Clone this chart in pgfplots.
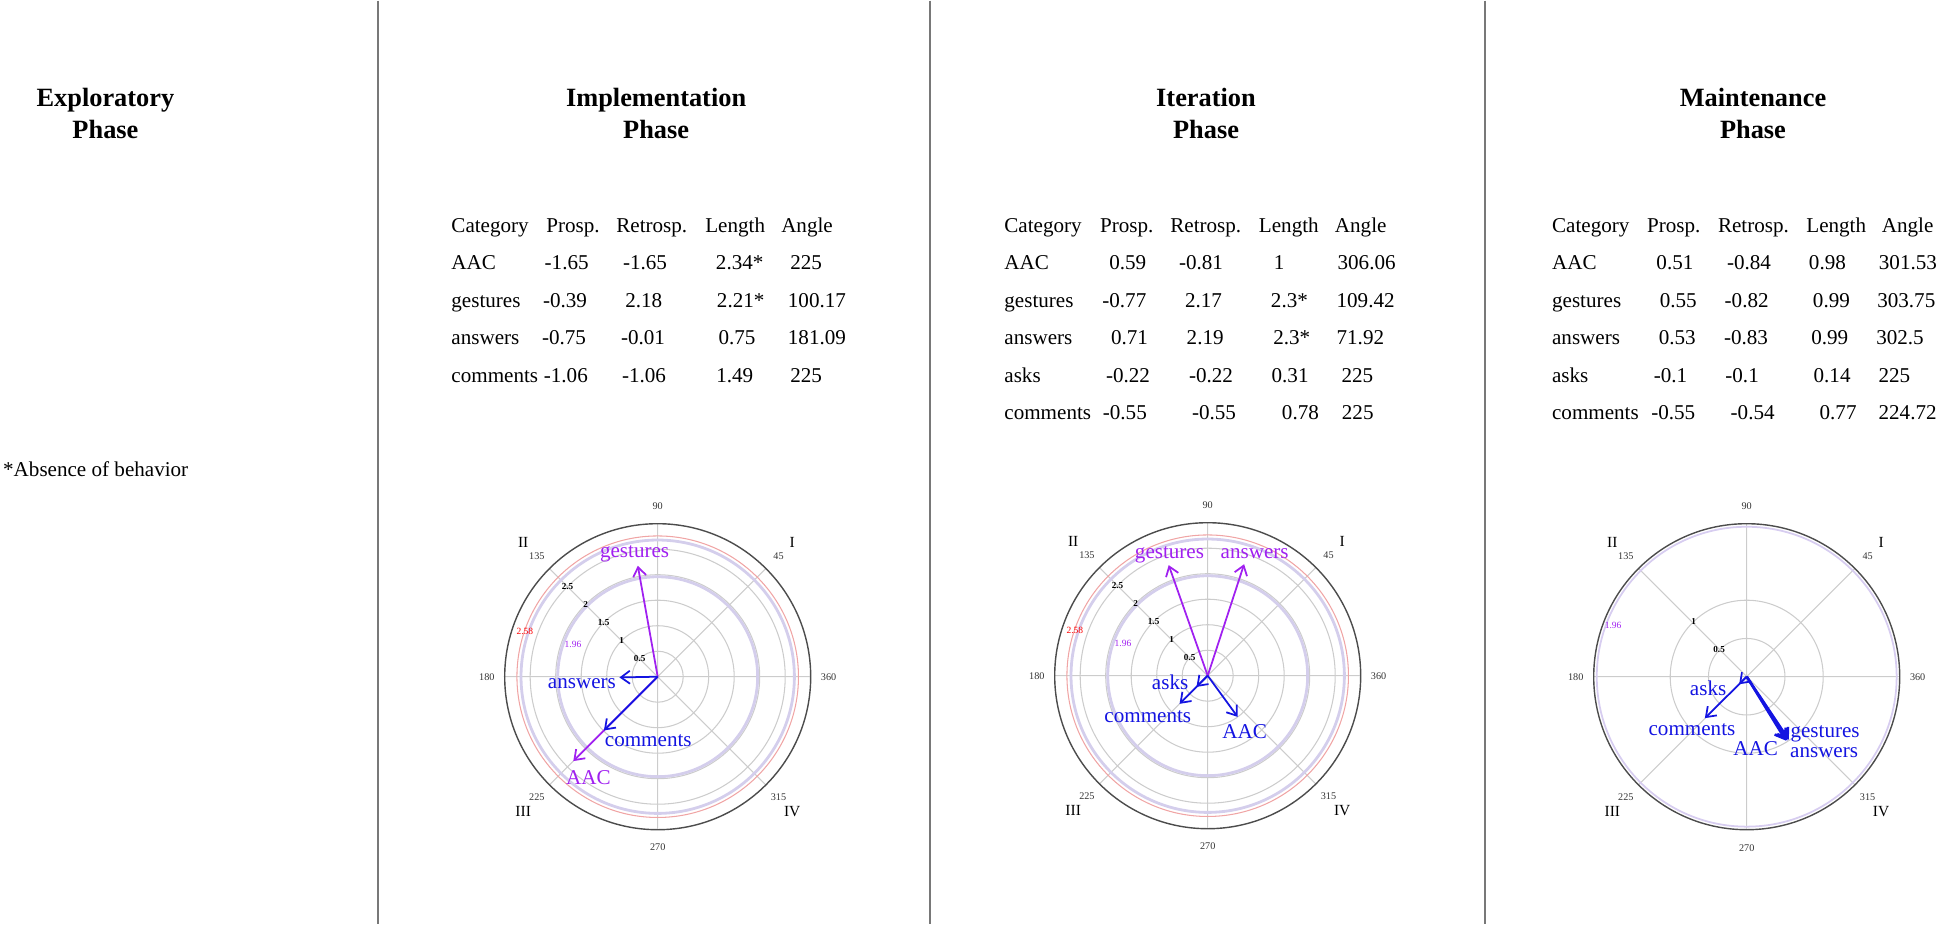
\documentclass[border=0pt]{standalone}
\usepackage{fontspec}
\setmainfont{Liberation Serif}
\usepackage{pgfplots}
\pgfplotsset{compat=1.18}
\usepgfplotslibrary{polar}
\usetikzlibrary{arrows.meta}
\definecolor{purp}{RGB}{160,32,240}
\definecolor{blu}{RGB}{20,20,225}
\definecolor{lav}{RGB}{212,206,236}
\definecolor{lavthin}{RGB}{215,205,240}
\definecolor{ringred}{RGB}{240,165,165}
\definecolor{divgray}{RGB}{120,120,120}
\newcommand{\tabfont}{\fontsize{6pt}{7pt}\selectfont}
\newcommand{\titfont}{\fontsize{7.5pt}{9pt}\selectfont\bfseries}
\newcommand{\angfont}{\fontsize{2.9pt}{3.4pt}\selectfont}
\newcommand{\quadfont}{\fontsize{4.4pt}{5pt}\selectfont}
\newcommand{\rfont}{\fontsize{2.6pt}{3pt}\selectfont\bfseries}
\newcommand{\cfont}{\fontsize{2.7pt}{3pt}\selectfont}
\newcommand{\cell}[3]{\node[anchor=base west,inner sep=0pt,font=\tabfont] at (#1,{934-#2}) {#3};}
\newcommand{\titl}[3]{\node[anchor=base,inner sep=0pt,font=\titfont] at (#1,{934-#2}) {#3};}
\newcommand{\angl}[2]{%
  \node[font=\angfont, text=black!80, inner sep=0pt] at (axis cs:0,#1) {360};
  \node[font=\angfont, text=black!80, inner sep=0pt] at (axis cs:45,#1) {45};
  \node[font=\angfont, text=black!80, inner sep=0pt] at (axis cs:90,#1) {90};
  \node[font=\angfont, text=black!80, inner sep=0pt] at (axis cs:135,#1) {135};
  \node[font=\angfont, text=black!80, inner sep=0pt] at (axis cs:180,#1) {180};
  \node[font=\angfont, text=black!80, inner sep=0pt] at (axis cs:225,#1) {225};
  \node[font=\angfont, text=black!80, inner sep=0pt] at (axis cs:270,#1) {270};
  \node[font=\angfont, text=black!80, inner sep=0pt] at (axis cs:315,#1) {315};
  \node[font=\quadfont, inner sep=0pt] at (axis cs:45,#2) {I};
  \node[font=\quadfont, inner sep=0pt] at (axis cs:135,#2) {II};
  \node[font=\quadfont, inner sep=0pt] at (axis cs:225,#2) {III};
  \node[font=\quadfont, inner sep=0pt] at (axis cs:315,#2) {IV};
}
\newcommand{\rlab}[2]{\node[font=\rfont, inner sep=0pt] at (axis cs:#1) {#2};}
\newcommand{\clab}[3]{\node[font=\cfont, text=#3, inner sep=0pt] at (axis cs:#1) {#2};}
\newcommand{\alab}[5]{\node[font=\tabfont, text=#1, inner sep=0pt, xshift=#3cm, yshift=#4cm] at (axis cs:#2) {#5};}
\pgfplotsset{
  mypolar/.style={
    scale only axis, width=3.06cm, height=3.06cm, anchor=center,
    ymin=0, xmin=0, xmax=360,
    xtick={0,45,...,315}, xticklabels={}, yticklabels={},
    grid=both,
    major grid style={color=gray!40, line width=0.3pt},
    minor grid style={color=ringred, line width=0.3pt},
    axis line style={color=black!70, line width=0.4pt},
    y axis line style={draw=none},
    major tick length=0pt, minor tick length=0pt,
    extra y tick labels={},
    extra y tick style={grid=major, major grid style={color=lav, line width=0.8pt}},
    clip=false,
  },
  arr/.style={-{Straight Barb[length=0.9mm,width=1.3mm]}, line width=0.5pt, mark=none},
}
\begin{document}
\begin{tikzpicture}
\path[use as bounding box] (0,0) rectangle (19.45cm,9.34cm);
\begin{scope}[x=0.01cm,y=0.01cm]
% dividers
\draw[divgray, line width=0.45pt] (378.5,934) -- (378.5,10);
\draw[divgray, line width=0.45pt] (930.5,934) -- (930.5,10);
\draw[divgray, line width=0.45pt] (1486,934) -- (1486,10);
% titles
\titl{105.5}{106.5}{Exploratory}
\titl{105.5}{138.5}{Phase}
\titl{656.5}{106.5}{Implementation}
\titl{656.5}{138.5}{Phase}
\titl{1206.7}{106}{Iteration}
\titl{1206.7}{138}{Phase}
\titl{1754}{106}{Maintenance}
\titl{1754}{138}{Phase}
\cell{2.5}{476}{*Absence of behavior}
% Implementation table
\cell{451}{231.7}{Category}\cell{546}{231.7}{Prosp.}\cell{616}{231.7}{Retrosp.}\cell{705}{231.7}{Length}\cell{781}{231.7}{Angle}
\cell{451}{269.2}{AAC}\cell{544.3}{269.2}{-1.65}\cell{622.7}{269.2}{-1.65}\cell{715.7}{269.2}{2.34*}\cell{790}{269.2}{225}
\cell{451}{306.7}{gestures}\cell{542.7}{306.7}{-0.39}\cell{625}{306.7}{2.18}\cell{716.7}{306.7}{2.21*}\cell{787.7}{306.7}{100.17}
\cell{451}{344.2}{answers}\cell{541.7}{344.2}{-0.75}\cell{620.7}{344.2}{-0.01}\cell{718.3}{344.2}{0.75}\cell{787.7}{344.2}{181.09}
\cell{451}{381.7}{comments}\cell{543.5}{381.7}{-1.06}\cell{621.7}{381.7}{-1.06}\cell{716}{381.7}{1.49}\cell{790}{381.7}{225}
% Iteration table
\cell{1004.3}{231.7}{Category}\cell{1100}{231.7}{Prosp.}\cell{1170.3}{231.7}{Retrosp.}\cell{1259}{231.7}{Length}\cell{1335}{231.7}{Angle}
\cell{1004.3}{269.2}{AAC}\cell{1109.3}{269.2}{0.59}\cell{1179}{269.2}{-0.81}\cell{1274}{269.2}{1}\cell{1337.7}{269.2}{306.06}
\cell{1004.3}{306.7}{gestures}\cell{1102.3}{306.7}{-0.77}\cell{1185}{306.7}{2.17}\cell{1271}{306.7}{2.3*}\cell{1336.7}{306.7}{109.42}
\cell{1004.3}{344.2}{answers}\cell{1111}{344.2}{0.71}\cell{1186.7}{344.2}{2.19}\cell{1273.3}{344.2}{2.3*}\cell{1336.7}{344.2}{71.92}
\cell{1004.3}{381.7}{asks}\cell{1106}{381.7}{-0.22}\cell{1189}{381.7}{-0.22}\cell{1271.7}{381.7}{0.31}\cell{1341.7}{381.7}{225}
\cell{1004.3}{419.2}{comments}\cell{1102.8}{419.2}{-0.55}\cell{1192}{419.2}{-0.55}\cell{1282}{419.2}{0.78}\cell{1342}{419.2}{225}
% Maintenance table
\cell{1552.3}{231.7}{Category}\cell{1647.3}{231.7}{Prosp.}\cell{1718.3}{231.7}{Retrosp.}\cell{1806.7}{231.7}{Length}\cell{1882.3}{231.7}{Angle}
\cell{1552.3}{269.2}{AAC}\cell{1656.7}{269.2}{0.51}\cell{1727.3}{269.2}{-0.84}\cell{1809.3}{269.2}{0.98}\cell{1879.3}{269.2}{301.53}
\cell{1552.3}{306.7}{gestures}\cell{1660}{306.7}{0.55}\cell{1725}{306.7}{-0.82}\cell{1813.3}{306.7}{0.99}\cell{1877.7}{306.7}{303.75}
\cell{1552.3}{344.2}{answers}\cell{1659}{344.2}{0.53}\cell{1724.3}{344.2}{-0.83}\cell{1811.7}{344.2}{0.99}\cell{1876.7}{344.2}{302.5}
\cell{1552.3}{381.7}{asks}\cell{1654}{381.7}{-0.1}\cell{1725.7}{381.7}{-0.1}\cell{1814}{381.7}{0.14}\cell{1879}{381.7}{225}
\cell{1552.3}{419.2}{comments}\cell{1651.6}{419.2}{-0.55}\cell{1731}{419.2}{-0.54}\cell{1820}{419.2}{0.77}\cell{1879}{419.2}{224.72}
\end{scope}

% ---------- Implementation polar ----------
\begin{polaraxis}[mypolar, at={(6.577cm,2.573cm)}, ymax=3,
  ytick={0.5,1,1.5,2,2.5}, minor ytick={2.76}, extra y ticks={1.96,2.68}]
\addplot[purp, arr] coordinates {(225,0) (225,2.34)};
\addplot[purp, arr] coordinates {(100.17,0) (100.17,2.21)};
\addplot[blu, arr] coordinates {(181.09,0) (181.09,0.75)};
\addplot[blu, arr] coordinates {(225,0) (225,1.49)};
\angl{3.35}{3.73}
\rlab{135,0.5}{0.5}\rlab{135,1}{1}\rlab{135,1.5}{1.5}\rlab{135,2}{2}\rlab{135,2.5}{2.5}
\clab{159,1.78}{1.96}{purp}
\clab{161.3,2.75}{2.58}{red}
\alab{purp}{100.17,2.21}{-0.032}{0.119}{gestures}
\alab{blu}{181.09,0.75}{-0.375}{-0.066}{answers}
\alab{blu}{225,1.49}{0.443}{-0.106}{comments}
\alab{purp}{225,2.34}{0.15}{-0.166}{AAC}
\end{polaraxis}

% ---------- Iteration polar ----------
\begin{polaraxis}[mypolar, at={(12.077cm,2.583cm)}, ymax=3,
  ytick={0.5,1,1.5,2,2.5}, minor ytick={2.76}, extra y ticks={1.96,2.68}]
\addplot[purp, arr] coordinates {(109.42,0) (109.42,2.3)};
\addplot[purp, arr] coordinates {(71.92,0) (71.92,2.3)};
\addplot[blu, arr] coordinates {(306.06,0) (306.06,1)};
\addplot[blu, arr] coordinates {(225,0) (225,0.78)};
\addplot[blu, arr] coordinates {(225,0) (225,0.31)};
\angl{3.35}{3.73}
\rlab{135,0.5}{0.5}\rlab{135,1}{1}\rlab{135,1.5}{1.5}\rlab{135,2}{2}\rlab{135,2.5}{2.5}
\clab{159,1.78}{1.96}{purp}
\clab{161.3,2.75}{2.58}{red}
\alab{purp}{109.42,2.3}{0.008}{0.10}{gestures}
\alab{purp}{71.92,2.3}{0.106}{0.104}{answers}
\alab{blu}{225,0.31}{-0.264}{0.044}{asks}
\alab{blu}{225,0.78}{-0.318}{-0.127}{comments}
\alab{blu}{306.06,1}{0.069}{-0.146}{AAC}
\end{polaraxis}

% ---------- Maintenance polar ----------
\begin{polaraxis}[mypolar, at={(17.467cm,2.573cm)}, ymax=2,
  ytick={0.5,1}, extra y ticks={1.96},
  extra y tick style={grid=major, major grid style={color=lavthin, line width=0.5pt}}]
\addplot[blu, arr, line width=0.7pt] coordinates {(301.53,0) (301.53,0.98)};
\addplot[blu, arr, line width=0.7pt] coordinates {(303.75,0) (303.75,0.99)};
\addplot[blu, arr, line width=0.7pt] coordinates {(302.5,0) (302.5,0.99)};
\addplot[blu, arr] coordinates {(225,0) (225,0.14)};
\addplot[blu, arr] coordinates {(224.72,0) (224.72,0.77)};
\angl{2.235}{2.484}
\rlab{135,0.51}{0.5}\rlab{134,1.0}{1}
\clab{159,1.87}{1.96}{purp}
\alab{blu}{225,0.14}{-0.31}{-0.04}{asks}
\alab{blu}{224.72,0.77}{-0.129}{-0.116}{comments}
\alab{blu}{301.53,0.98}{-0.302}{-0.08}{AAC}
\alab{blu}{303.75,0.99}{0.363}{0.061}{gestures}
\alab{blu}{302.5,0.99}{0.367}{-0.123}{answers}
\end{polaraxis}
\end{tikzpicture}
\end{document}
